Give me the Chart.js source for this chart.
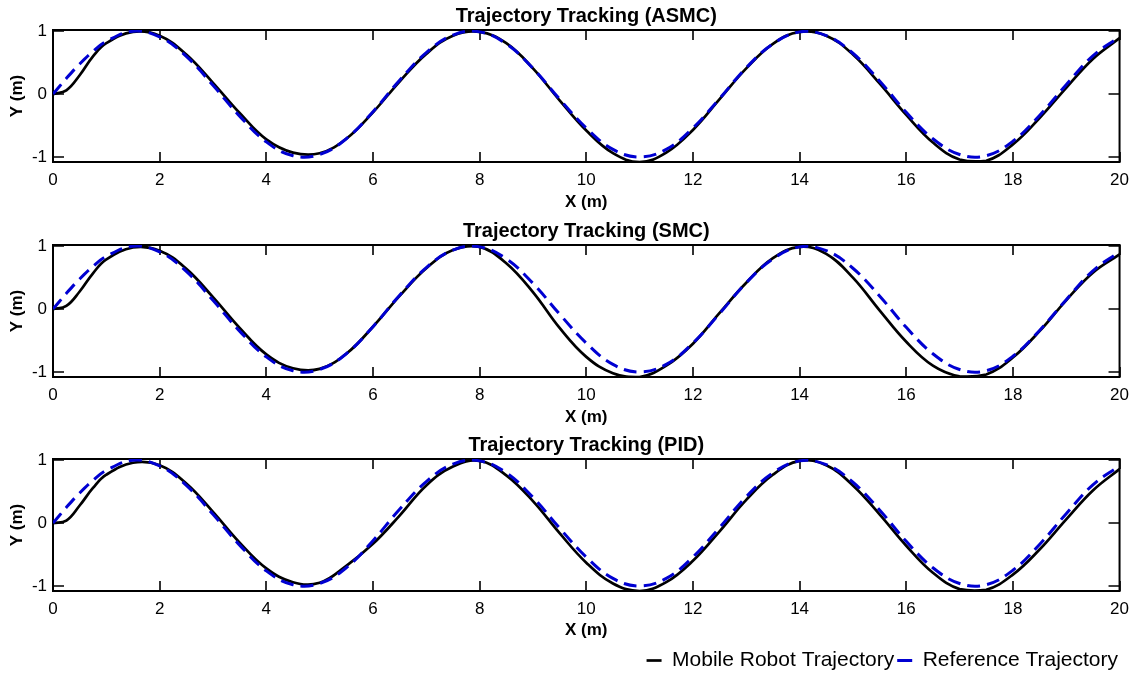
<!DOCTYPE html>
<html>
<head>
<meta charset="utf-8">
<title>Trajectory Tracking</title>
<script src="https://cdn.jsdelivr.net/npm/chart.js@4.4.1/dist/chart.umd.min.js"></script>
<style>
  html, body { margin: 0; padding: 0; background: #fff; overflow: hidden; }
  #wrap { position: relative; width: 1137px; height: 675px; overflow: hidden; }
  canvas { position: absolute; left: 0; }
</style>
</head>
<body>
<div id="wrap">
  <canvas id="asmc" width="1137" height="215" style="top:0"></canvas>
  <canvas id="smc" width="1137" height="215" style="top:215px"></canvas>
  <canvas id="pid" width="1137" height="252" style="top:429px"></canvas>
</div>
<script>
// x positions (m) shared by every series
const xPos = [0, 0.25, 0.5, 0.75, 1, 1.5, 2, 2.5, 3, 3.5, 4, 4.5, 5, 5.5, 6, 6.5, 7, 7.5, 8, 8.5,
  9, 9.5, 10, 10.5, 11, 11.5, 12, 12.5, 13, 13.5, 14, 14.5, 15, 15.5, 16, 16.5, 17, 17.5, 18, 18.5,
  19, 19.5, 20];

// reference path
const refY = [0, 0.25, 0.48, 0.68, 0.84, 1.00, 0.91, 0.60, 0.14, -0.35, -0.76, -0.98, -0.96, -0.71,
  -0.28, 0.22, 0.66, 0.94, 0.99, 0.80, 0.41, -0.08, -0.54, -0.88, -1.00, -0.88, -0.54, -0.07, 0.42,
  0.80, 0.99, 0.93, 0.65, 0.21, -0.29, -0.71, -0.96, -0.98, -0.75, -0.34, 0.15, 0.61, 0.91];

// robot path per controller
const asmcY = [0, 0.06, 0.30, 0.60, 0.81, 0.99, 0.93, 0.63, 0.18, -0.30, -0.72, -0.93, -0.94, -0.71,
  -0.29, 0.20, 0.64, 0.93, 0.99, 0.81, 0.41, -0.10, -0.58, -0.94, -1.08, -0.93, -0.57, -0.08, 0.41,
  0.80, 0.99, 0.93, 0.63, 0.17, -0.33, -0.77, -1.04, -1.06, -0.80, -0.38, 0.10, 0.56, 0.89];

const smcY = [0, 0.05, 0.28, 0.57, 0.79, 0.98, 0.93, 0.64, 0.19, -0.30, -0.72, -0.94, -0.95, -0.71,
  -0.28, 0.21, 0.65, 0.94, 0.99, 0.73, 0.27, -0.30, -0.76, -1.02, -1.08, -0.90, -0.55, -0.06, 0.42,
  0.81, 0.99, 0.88, 0.50, -0.02, -0.52, -0.90, -1.07, -1.04, -0.77, -0.35, 0.14, 0.58, 0.87];

const pidY = [0, 0.04, 0.28, 0.56, 0.77, 0.96, 0.92, 0.63, 0.18, -0.31, -0.72, -0.94, -0.95, -0.68,
  -0.33, 0.12, 0.60, 0.90, 0.99, 0.76, 0.35, -0.16, -0.63, -0.96, -1.08, -0.94, -0.60, -0.13, 0.37,
  0.77, 0.99, 0.92, 0.60, 0.14, -0.36, -0.79, -1.05, -1.06, -0.82, -0.42, 0.06, 0.52, 0.86];

const xTicks = [0, 2, 4, 6, 8, 10, 12, 14, 16, 18, 20];
const yTicks = [-1, 0, 1];

const FONT = "'Liberation Sans', Arial, Helvetica, sans-serif";
const BLUE = "#0000d2";

Chart.defaults.color = "#000";
Chart.defaults.font.family = FONT;

/* box around the plot area + inward tick marks on all four sides */
const matlabBox = {
  id: "matlabBox",
  beforeDatasetsDraw(chart) {
    const { ctx, chartArea: a, scales: { x, y } } = chart;
    ctx.save();
    ctx.strokeStyle = "#000";
    ctx.lineWidth = 1.6;
    ctx.beginPath();
    x.ticks.forEach(t => {
      const px = Math.round(x.getPixelForValue(t.value));
      ctx.moveTo(px, a.bottom);
      ctx.lineTo(px, a.bottom - 10);
      ctx.moveTo(px, a.top);
      ctx.lineTo(px, a.top + 10);
    });
    y.ticks.forEach(t => {
      const py = Math.round(y.getPixelForValue(t.value));
      ctx.moveTo(a.left, py);
      ctx.lineTo(a.left + 11, py);
      ctx.moveTo(a.right, py);
      ctx.lineTo(a.right - 11, py);
    });
    ctx.stroke();
    ctx.lineWidth = 2;
    ctx.strokeRect(a.left, a.top, a.right - a.left, a.bottom - a.top);
    ctx.restore();
  }
};

/* title centred over the plot area rather than the whole canvas */
const plotTitle = {
  id: "plotTitle",
  afterDraw(chart, args, opts) {
    const { ctx, chartArea: a } = chart;
    ctx.save();
    ctx.font = `bold 20px ${FONT}`;
    ctx.fillStyle = "#000";
    ctx.textAlign = "center";
    ctx.textBaseline = "middle";
    ctx.fillText(opts.text, (a.left + a.right) / 2, 16);
    ctx.restore();
  }
};

function pts(ys) {
  return xPos.map((x, i) => ({ x, y: ys[i] }));
}

function makePlot(id, title, robotY, withLegend) {
  return new Chart(document.getElementById(id), {
    type: "line",
    data: {
      datasets: [
        {
          label: "Mobile Robot Trajectory",
          data: pts(robotY),
          borderColor: "#000",
          backgroundColor: "#000",
          borderWidth: 2.7,
          pointRadius: 0,
          tension: 0.4,
          order: 1
        },
        {
          label: "Reference Trajectory",
          data: pts(refY),
          borderColor: BLUE,
          backgroundColor: BLUE,
          borderWidth: 3,
          borderDash: [13, 7],
          pointRadius: 0,
          tension: 0.4,
          order: 0
        }
      ]
    },
    options: {
      responsive: false,
      animation: false,
      devicePixelRatio: 1,
      layout: { padding: { left: 0, right: 16, top: 30, bottom: 0 } },
      scales: {
        x: {
          type: "linear",
          min: 0,
          max: 20,
          grid: { display: false, drawTicks: false },
          border: { display: false },
          afterBuildTicks: s => { s.ticks = xTicks.map(v => ({ value: v })); },
          // legend takes 34px in the last panel
          afterFit: s => { s.height = withLegend ? 56 : 53; },
          ticks: { padding: 8, font: { size: 17 }, maxRotation: 0 },
          title: {
            display: true,
            text: "X (m)",
            font: { size: 17, weight: "bold" },
            padding: { top: 0, bottom: withLegend ? 6 : 2 }
          }
        },
        y: {
          min: -1.08,
          max: 1.02,
          grid: { display: false, drawTicks: false },
          border: { display: false },
          afterBuildTicks: s => { s.ticks = yTicks.map(v => ({ value: v })); },
          afterFit: s => { s.width = 53; },
          ticks: { padding: 6, font: { size: 17 } },
          title: {
            display: true,
            text: "Y (m)",
            font: { size: 17, weight: "bold" },
            padding: { top: 7, bottom: 0 }
          }
        }
      },
      plugins: {
        plotTitle: { text: title },
        title: { display: false },
        legend: {
          display: withLegend,
          position: "bottom",
          align: "end",
          labels: {
            sort: (a, b) => a.datasetIndex - b.datasetIndex,
            usePointStyle: true,
            pointStyle: "line",
            pointStyleWidth: 15,
            padding: 3,
            color: "#000",
            font: { size: 21 }
          }
        },
        tooltip: { enabled: false }
      }
    },
    plugins: [matlabBox, plotTitle]
  });
}

makePlot("asmc", "Trajectory Tracking (ASMC)", asmcY, false);
makePlot("smc", "Trajectory Tracking (SMC)", smcY, false);
makePlot("pid", "Trajectory Tracking (PID)", pidY, true);
</script>
</body>
</html>
